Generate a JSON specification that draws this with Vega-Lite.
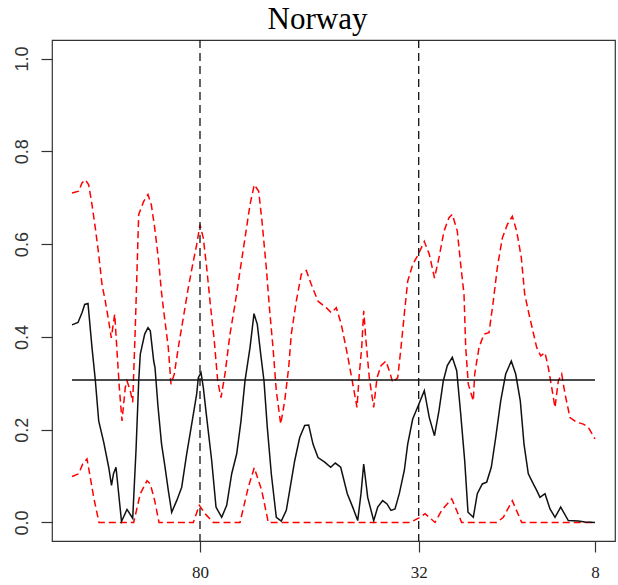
{
  "$schema": "https://vega.github.io/schema/vega-lite/v6.json",
  "width": 563,
  "height": 501,
  "autosize": {"type": "none"},
  "padding": {"left": 52, "top": 40, "right": 3, "bottom": 44},
  "background": "white",
  "title": {"text": "Norway", "font": "Liberation Serif", "fontSize": 31, "fontWeight": "normal", "color": "black", "baseline": "alphabetic", "offset": 12, "dx": -16, "dy": 33},
  "config": {
    "view": {"stroke": "#333", "strokeWidth": 1.2},
    "axis": {"grid": false, "domain": false, "tickColor": "#333", "tickSize": 11, "tickWidth": 1.2, "title": null}
  },
  "datasets": {
    "est": [
      {"x":0,"y":0.426},{"x":6,"y":0.431},{"x":10,"y":0.452},{"x":12.7,"y":0.470},{"x":16,"y":0.472},{"x":20,"y":0.377},{"x":23.3,"y":0.307},{"x":26.7,"y":0.219},{"x":31.7,"y":0.173},{"x":36.7,"y":0.119},{"x":39.5,"y":0.080},{"x":41.5,"y":0.105},{"x":44,"y":0.119},{"x":49.5,"y":0.002},{"x":55,"y":0.028},{"x":60.7,"y":0.009},{"x":64,"y":0.155},{"x":66.7,"y":0.305},{"x":68.3,"y":0.363},{"x":72.7,"y":0.406},{"x":76,"y":0.420},{"x":78.3,"y":0.413},{"x":81.7,"y":0.348},{"x":83,"y":0.334},{"x":86,"y":0.25},{"x":89.5,"y":0.17},{"x":93,"y":0.12},{"x":96.3,"y":0.069},{"x":99.7,"y":0.022},{"x":104.7,"y":0.047},{"x":109.7,"y":0.076},{"x":114.7,"y":0.148},{"x":119.7,"y":0.212},{"x":124.7,"y":0.277},{"x":126.3,"y":0.312},{"x":129,"y":0.323},{"x":131.3,"y":0.291},{"x":134.7,"y":0.226},{"x":139.7,"y":0.133},{"x":144,"y":0.033},{"x":149.7,"y":0.011},{"x":154.7,"y":0.037},{"x":159.7,"y":0.105},{"x":164.7,"y":0.148},{"x":169,"y":0.219},{"x":173,"y":0.305},{"x":178,"y":0.377},{"x":182,"y":0.450},{"x":185.3,"y":0.427},{"x":188.7,"y":0.363},{"x":192,"y":0.305},{"x":195.3,"y":0.205},{"x":199.3,"y":0.105},{"x":204.3,"y":0.011},{"x":209.3,"y":0.003},{"x":214.3,"y":0.026},{"x":217.7,"y":0.069},{"x":222.7,"y":0.133},{"x":227.7,"y":0.183},{"x":232.7,"y":0.209},{"x":236.7,"y":0.210},{"x":241,"y":0.169},{"x":246,"y":0.140},{"x":252.7,"y":0.130},{"x":258.7,"y":0.119},{"x":263.3,"y":0.128},{"x":268.7,"y":0.119},{"x":275.3,"y":0.062},{"x":280.7,"y":0.033},{"x":285.7,"y":0.004},{"x":289,"y":0.062},{"x":291.7,"y":0.126},{"x":295.7,"y":0.054},{"x":301.7,"y":0.004},{"x":305.7,"y":0.033},{"x":310.7,"y":0.047},{"x":315,"y":0.040},{"x":319,"y":0.026},{"x":323,"y":0.029},{"x":327.3,"y":0.062},{"x":332.3,"y":0.112},{"x":335.7,"y":0.169},{"x":340.7,"y":0.223},{"x":346.3,"y":0.252},{"x":352.3,"y":0.284},{"x":357.3,"y":0.226},{"x":362.5,"y":0.187},{"x":367,"y":0.241},{"x":371.3,"y":0.305},{"x":375.3,"y":0.338},{"x":380.3,"y":0.356},{"x":384.7,"y":0.327},{"x":388.7,"y":0.234},{"x":392.7,"y":0.133},{"x":396,"y":0.022},{"x":401.3,"y":0.011},{"x":405.3,"y":0.062},{"x":410.3,"y":0.083},{"x":414.7,"y":0.087},{"x":419.3,"y":0.119},{"x":423.7,"y":0.183},{"x":428.7,"y":0.262},{"x":433.7,"y":0.320},{"x":439.3,"y":0.348},{"x":443.7,"y":0.320},{"x":448.3,"y":0.262},{"x":452,"y":0.169},{"x":456.3,"y":0.105},{"x":461.3,"y":0.083},{"x":464.7,"y":0.069},{"x":468,"y":0.054},{"x":473,"y":0.062},{"x":478,"y":0.029},{"x":483,"y":0.011},{"x":488.7,"y":0.033},{"x":496.3,"y":0.004},{"x":506.3,"y":0.003},{"x":513,"y":0.001},{"x":523,"y":0.0}
    ],
    "upper": [
      {"x":0,"y":0.710},{"x":6.7,"y":0.714},{"x":10,"y":0.732},{"x":13.3,"y":0.739},{"x":16.7,"y":0.728},{"x":20,"y":0.685},{"x":23.3,"y":0.635},{"x":26.7,"y":0.578},{"x":30,"y":0.513},{"x":33.3,"y":0.477},{"x":36.7,"y":0.434},{"x":39.3,"y":0.398},{"x":42.7,"y":0.449},{"x":47.3,"y":0.291},{"x":50,"y":0.219},{"x":53.3,"y":0.291},{"x":55,"y":0.305},{"x":58.3,"y":0.284},{"x":60.7,"y":0.259},{"x":63.3,"y":0.420},{"x":66.7,"y":0.664},{"x":71.7,"y":0.692},{"x":76,"y":0.707},{"x":79.3,"y":0.685},{"x":82.7,"y":0.635},{"x":86.7,"y":0.563},{"x":89.3,"y":0.500},{"x":91.3,"y":0.463},{"x":96.3,"y":0.377},{"x":99,"y":0.298},{"x":102.3,"y":0.320},{"x":106.3,"y":0.377},{"x":111.3,"y":0.441},{"x":116.3,"y":0.506},{"x":121.3,"y":0.563},{"x":124.7,"y":0.599},{"x":128,"y":0.642},{"x":131.3,"y":0.613},{"x":134.7,"y":0.549},{"x":138,"y":0.477},{"x":142.3,"y":0.391},{"x":145.7,"y":0.305},{"x":149,"y":0.269},{"x":153,"y":0.320},{"x":158,"y":0.406},{"x":163,"y":0.470},{"x":168,"y":0.542},{"x":173,"y":0.613},{"x":178,"y":0.685},{"x":182.3,"y":0.728},{"x":186.7,"y":0.714},{"x":190,"y":0.649},{"x":194.3,"y":0.549},{"x":197.7,"y":0.456},{"x":201,"y":0.377},{"x":204.3,"y":0.284},{"x":208.7,"y":0.212},{"x":212.7,"y":0.262},{"x":216.7,"y":0.334},{"x":219.3,"y":0.406},{"x":224.3,"y":0.477},{"x":229.3,"y":0.535},{"x":234.3,"y":0.543},{"x":239.3,"y":0.513},{"x":246,"y":0.477},{"x":254.3,"y":0.463},{"x":259.3,"y":0.452},{"x":264.3,"y":0.463},{"x":269.3,"y":0.427},{"x":275.3,"y":0.363},{"x":279,"y":0.320},{"x":285,"y":0.248},{"x":287.3,"y":0.320},{"x":289.7,"y":0.377},{"x":291.7,"y":0.456},{"x":294,"y":0.391},{"x":297.3,"y":0.312},{"x":301.7,"y":0.248},{"x":305,"y":0.312},{"x":309,"y":0.338},{"x":314,"y":0.348},{"x":318.3,"y":0.320},{"x":320.7,"y":0.302},{"x":325.7,"y":0.312},{"x":329,"y":0.377},{"x":332.3,"y":0.449},{"x":335.7,"y":0.520},{"x":340.7,"y":0.556},{"x":346.3,"y":0.578},{"x":352.3,"y":0.606},{"x":357.3,"y":0.578},{"x":362.5,"y":0.527},{"x":367,"y":0.571},{"x":372,"y":0.628},{"x":377,"y":0.657},{"x":380.3,"y":0.664},{"x":385.3,"y":0.628},{"x":388.7,"y":0.556},{"x":392,"y":0.492},{"x":393.7,"y":0.377},{"x":396.3,"y":0.298},{"x":401.3,"y":0.262},{"x":402.7,"y":0.320},{"x":407,"y":0.377},{"x":412,"y":0.406},{"x":417,"y":0.409},{"x":421.3,"y":0.477},{"x":425.3,"y":0.549},{"x":430.3,"y":0.613},{"x":435.3,"y":0.642},{"x":440.3,"y":0.660},{"x":444.7,"y":0.628},{"x":449.3,"y":0.571},{"x":452.7,"y":0.492},{"x":457,"y":0.449},{"x":461.3,"y":0.409},{"x":464.7,"y":0.377},{"x":468.7,"y":0.359},{"x":473,"y":0.366},{"x":476.3,"y":0.334},{"x":479.7,"y":0.291},{"x":483,"y":0.248},{"x":486.3,"y":0.305},{"x":489.7,"y":0.320},{"x":493,"y":0.277},{"x":498,"y":0.226},{"x":504.7,"y":0.216},{"x":511.3,"y":0.212},{"x":516.3,"y":0.205},{"x":523,"y":0.180}
    ],
    "lower": [
      {"x":0,"y":0.099},{"x":6.7,"y":0.105},{"x":10.7,"y":0.126},{"x":15,"y":0.137},{"x":18.3,"y":0.097},{"x":21.7,"y":0.054},{"x":27,"y":0},{"x":61.7,"y":0},{"x":68.3,"y":0.062},{"x":75,"y":0.090},{"x":78.3,"y":0.083},{"x":82.7,"y":0.047},{"x":87,"y":0},{"x":121.3,"y":0},{"x":127.3,"y":0.037},{"x":133,"y":0.019},{"x":141.3,"y":0},{"x":168,"y":0},{"x":176.3,"y":0.076},{"x":182.3,"y":0.118},{"x":189.7,"y":0.069},{"x":196.3,"y":0},{"x":338,"y":0},{"x":348,"y":0.011},{"x":353,"y":0.019},{"x":363,"y":0},{"x":369.7,"y":0.026},{"x":379.7,"y":0.051},{"x":389.7,"y":0},{"x":424.7,"y":0},{"x":431.3,"y":0.011},{"x":440.3,"y":0.047},{"x":449.7,"y":0},{"x":523,"y":0}
    ],
    "hline": [{"x1": 0, "x2": 523, "y": 0.307}],
    "vlines": [{"x": 128}, {"x": 346.7}]
  },
  "layer": [
    {
      "data": {"name": "upper"},
      "mark": {"type": "line", "color": "#FF0000", "strokeWidth": 1.5, "strokeDash": [7, 4], "interpolate": "linear"},
      "encoding": {
        "x": {"field": "x", "type": "quantitative", "scale": {"domain": [-20, 543], "nice": false, "zero": false},
              "axis": {"values": [128, 346.7, 523], "labelExpr": "datum.value < 200 ? '80' : (datum.value < 400 ? '32' : '8')", "labelFont": "Liberation Serif", "labelFontSize": 17, "labelColor": "#222", "labelPadding": 12}},
        "y": {"field": "y", "type": "quantitative", "scale": {"domain": [-0.04, 1.04], "nice": false, "zero": false},
              "axis": {"values": [0, 0.2, 0.4, 0.6, 0.8, 1.0], "format": ".1f", "labelAngle": 270, "labelFont": "Liberation Sans", "labelFontSize": 18, "labelColor": "#333", "labelPadding": 10}}
      }
    },
    {
      "data": {"name": "lower"},
      "mark": {"type": "line", "color": "#FF0000", "strokeWidth": 1.5, "strokeDash": [7, 4]},
      "encoding": {"x": {"field": "x", "type": "quantitative"}, "y": {"field": "y", "type": "quantitative"}}
    },
    {
      "data": {"name": "est"},
      "mark": {"type": "line", "color": "#111", "strokeWidth": 1.5},
      "encoding": {"x": {"field": "x", "type": "quantitative"}, "y": {"field": "y", "type": "quantitative"}}
    },
    {
      "data": {"name": "hline"},
      "mark": {"type": "rule", "color": "#111", "strokeWidth": 1.5},
      "encoding": {"x": {"field": "x1", "type": "quantitative"}, "x2": {"field": "x2"}, "y": {"field": "y", "type": "quantitative"}}
    },
    {
      "data": {"name": "vlines"},
      "mark": {"type": "rule", "color": "#111", "strokeWidth": 1.3, "strokeDash": [8, 5]},
      "encoding": {"x": {"field": "x", "type": "quantitative"}}
    }
  ]
}
